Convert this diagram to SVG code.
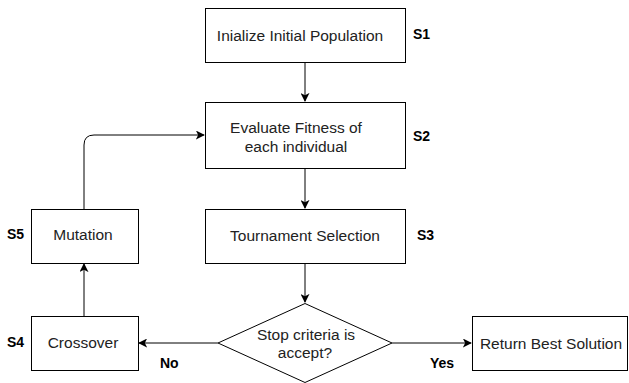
<svg xmlns="http://www.w3.org/2000/svg" width="629" height="383" viewBox="0 0 629 383">
<style>
.box{fill:#fff;stroke:#000;stroke-width:1}
.t{font-family:"Liberation Sans",Arial,sans-serif;font-size:15.5px;fill:#222;text-anchor:middle}
.lb{font-family:"Liberation Sans",Arial,sans-serif;font-size:14px;font-weight:bold;fill:#000}
.c{fill:none;stroke:#000;stroke-width:1}
</style>
<defs>
<marker id="a" viewBox="0 0 10 10" refX="9" refY="5" markerWidth="9" markerHeight="9" orient="auto" markerUnits="userSpaceOnUse">
<path d="M0,0 L10,5 L0,10 L2.5,5 z" fill="#000"/>
</marker>
</defs>
<rect width="629" height="383" fill="#fff"/>
<g id="connectors">
<path class="c" d="M305,62 V101" marker-end="url(#a)"/>
<path class="c" d="M305,168 V208" marker-end="url(#a)"/>
<path class="c" d="M305,263 V302" marker-end="url(#a)"/>
<path class="c" d="M218,343 H139" marker-end="url(#a)"/>
<path class="c" d="M392,343 H471" marker-end="url(#a)"/>
<path class="c" d="M84,316 V264" marker-end="url(#a)"/>
<path class="c" d="M84,209 V145 Q84,135 94,135 H204" marker-end="url(#a)"/>
</g>
<g id="s1">
<rect class="box" x="205.5" y="8.5" width="200" height="54"/>
<text class="t" x="300" y="40.5">Inialize Initial Population</text>
<text class="lb" x="413" y="39">S1</text>
</g>
<g id="s2">
<rect class="box" x="205.5" y="102.5" width="200" height="66"/>
<text class="t" x="296" y="133">Evaluate Fitness of</text>
<text class="t" x="296" y="152">each individual</text>
<text class="lb" x="413" y="141">S2</text>
</g>
<g id="s3">
<rect class="box" x="205.5" y="209.5" width="200" height="54"/>
<text class="t" x="305" y="241">Tournament Selection</text>
<text class="lb" x="417" y="240">S3</text>
</g>
<g id="decision">
<polygon class="box" points="305,303.5 392,343 305,382.5 218,343"/>
<text class="t" x="306" y="340">Stop criteria is</text>
<text class="t" x="305" y="358">accept?</text>
</g>
<g id="s5">
<rect class="box" x="31.5" y="209.5" width="107" height="54"/>
<text class="t" x="83" y="240">Mutation</text>
<text class="lb" x="7" y="239">S5</text>
</g>
<g id="s4">
<rect class="box" x="31.5" y="316.5" width="107" height="54"/>
<text class="t" x="83" y="348">Crossover</text>
<text class="lb" x="7" y="347">S4</text>
</g>
<g id="ret">
<rect class="box" x="472.5" y="316.5" width="155" height="54"/>
<text class="t" x="551" y="349">Return Best Solution</text>
</g>
<text class="lb" x="160" y="368">No</text>
<text class="lb" x="430" y="368">Yes</text>
</svg>
